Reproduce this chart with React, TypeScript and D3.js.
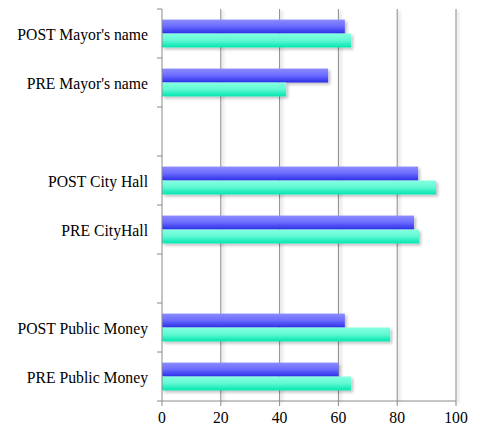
import * as d3 from "d3";

// categories top to bottom, "" = empty slot
const categories = [
  "POST Mayor's name",
  "PRE Mayor's name",
  "",
  "POST City Hall",
  "PRE CityHall",
  "",
  "POST Public Money",
  "PRE Public Money",
];
const seriesNames = ["A", "B"];
const seriesA = [62.2, 56.5, null, 87.1, 85.7, null, 62.2, 60.0];
const seriesB = [64.3, 42.2, null, 93.2, 87.4, null, 77.6, 64.3];
const xTicks = [0, 20, 40, 60, 80, 100];

const width = 480;
const height = 425;
const margin = { top: 9, right: 24, bottom: 24, left: 162 };
const font = "'Liberation Serif', 'Times New Roman', serif";
const axisColor = "#8a8a8a";

export default function App() {
  const x = d3.scaleLinear().domain([0, 100]).range([margin.left, width - margin.right]);
  const idx = categories.map((_, i) => String(i));
  const y = d3.scaleBand().domain(idx).range([margin.top, height - margin.bottom]).padding(0);
  const inner = d3
    .scaleBand()
    .domain(seriesNames)
    .range([0, y.bandwidth()])
    .paddingInner(0)
    .paddingOuter(0.76);
  const values = [seriesA, seriesB];
  const fills = ["url(#gA)", "url(#gB)"];
  const bottom = height - margin.bottom;
  const bandEdges = idx.map((k) => y(k) as number).concat([bottom]);

  return (
    <svg
      width={width}
      height={height}
      style={{ position: "absolute", left: 0, top: 0, background: "#fff", fontFamily: font }}
    >
      <defs>
        <linearGradient id="gA" x1="0" y1="0" x2="0" y2="1">
          <stop offset="0" stopColor="#8c8cff" />
          <stop offset="0.5" stopColor="#6a6aff" />
          <stop offset="1" stopColor="#2a2ee6" />
        </linearGradient>
        <linearGradient id="gB" x1="0" y1="0" x2="0" y2="1">
          <stop offset="0" stopColor="#86ffe2" />
          <stop offset="0.5" stopColor="#5ff8d2" />
          <stop offset="1" stopColor="#00e6b0" />
        </linearGradient>
        <filter id="sh" x="-10%" y="-30%" width="130%" height="180%">
          <feDropShadow dx="2" dy="2" stdDeviation="1.5" floodColor="#000" floodOpacity="0.25" />
        </filter>
      </defs>

      {/* gridlines */}
      <g filter="url(#sh)">
        {xTicks.slice(1).map((t) => (
          <line key={t} x1={x(t)} x2={x(t)} y1={margin.top} y2={bottom} stroke={axisColor} strokeWidth={1} />
        ))}
      </g>

      {/* bars */}
      {categories.map((c, i) =>
        values.map((vals, s) => {
          const v = vals[i];
          if (v == null) return null;
          const yy = (y(String(i)) as number) + (inner(seriesNames[s]) as number);
          return (
            <rect
              key={`${i}-${s}`}
              x={x(0)}
              y={yy}
              width={x(v) - x(0)}
              height={inner.bandwidth()}
              fill={fills[s]}
              filter="url(#sh)"
            />
          );
        })
      )}

      {/* y axis */}
      <line x1={x(0)} x2={x(0)} y1={margin.top} y2={bottom} stroke={axisColor} />
      {bandEdges.map((e, i) => (
        <line key={i} x1={x(0) - 5} x2={x(0)} y1={e} y2={e} stroke={axisColor} />
      ))}
      {categories.map((c, i) => (
        <text
          key={i}
          x={x(0) - 14}
          y={(y(String(i)) as number) + y.bandwidth() / 2}
          dy="0.42em"
          textAnchor="end"
          fontSize={15.7}
          fill="#000"
        >
          {c}
        </text>
      ))}

      {/* x axis */}
      <line x1={x(0)} x2={x(100)} y1={bottom} y2={bottom} stroke={axisColor} />
      {xTicks.map((t) => (
        <g key={t}>
          <line x1={x(t)} x2={x(t)} y1={bottom} y2={bottom + 5} stroke={axisColor} />
          <text x={x(t)} y={bottom + 22} textAnchor="middle" fontSize={15.7} fill="#000">
            {t}
          </text>
        </g>
      ))}
    </svg>
  );
}
